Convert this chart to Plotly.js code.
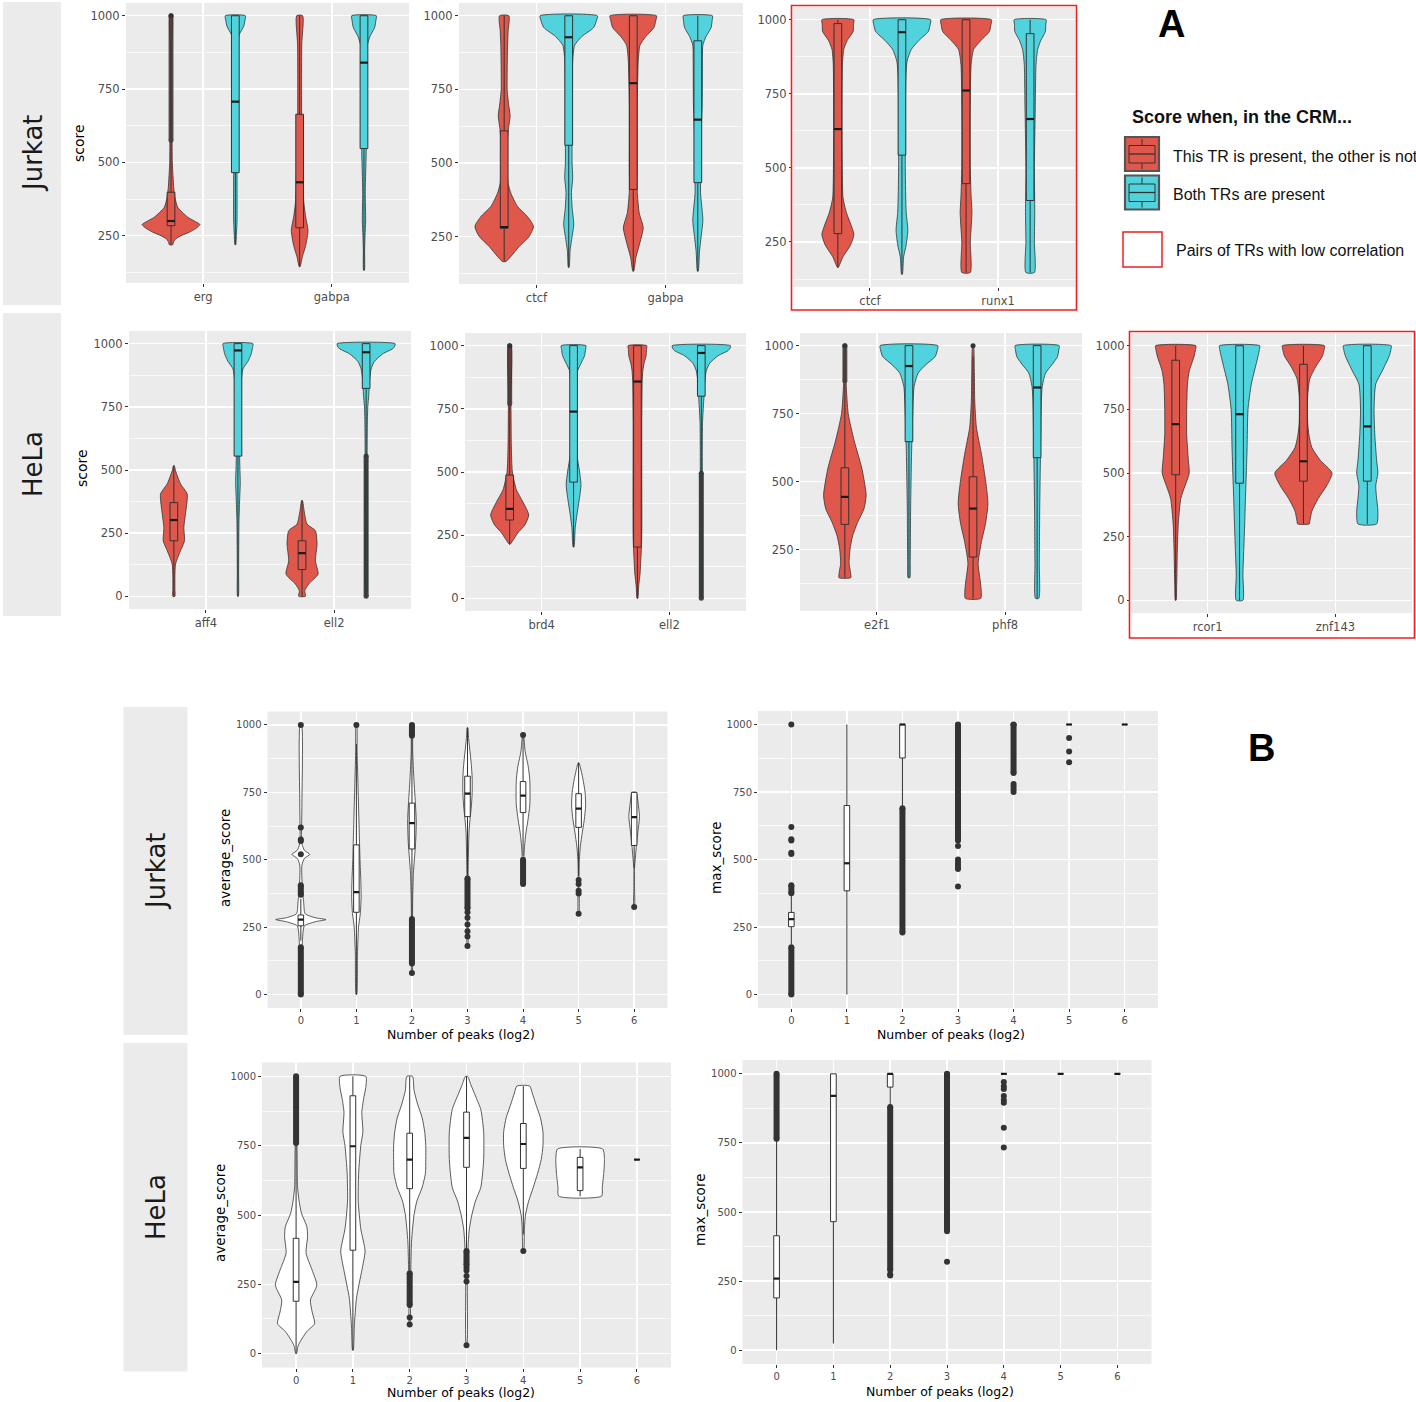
<!DOCTYPE html>
<html>
<head>
<meta charset="utf-8">
<script src="https://cdn.plot.ly/plotly-3.0.1.min.js"></script>
<style>body{margin:0;background:#fff}#chart{width:1416px;height:1402px}</style>
</head>
<body>
<div id="chart"></div>
<script>
// =================== DATA ===================
// Panel A. Each violin: score levels and half-width (x units) of the density outline.
// Box stats: [lower whisker, q1, median, q3, upper whisker]
// ---- Jurkat, pair 1
const jA1Cats = ['erg', 'gabpa'];
const jA1RedLevels = [[1000,900,700,500,450,415,380,347,313,300,288,275,262,250,240,230,219],[1000,900,600,450,370,313,268,217,178,144]];
const jA1RedWidths = [[0.008,0.008,0.008,0.010,0.016,0.021,0.031,0.052,0.130,0.181,0.225,0.194,0.143,0.078,0.039,0.021,0.013],[0.023,0.016,0.016,0.026,0.031,0.047,0.065,0.047,0.021,0.003]];
const jA1CyanLevels = [[1000,985,964,936,902,850,700,500,300,250,219],[1000,985,960,930,900,880,700,550,400,300,250,200,132]];
const jA1CyanWidths = [[0.078,0.075,0.065,0.031,0.016,0.013,0.013,0.013,0.013,0.008,0.003],[0.096,0.093,0.083,0.047,0.026,0.021,0.018,0.018,0.010,0.013,0.008,0.005,0.003]];
const jA1RedStats = [[219,284,300,398,570],[144,277,432,664,1000]];
const jA1CyanStats = [[219,465,707,1000,1000],[132,547,840,1000,1000]];
const jA1RedOutliers = [[1000],[]];
const jA1RedOutlierRuns = [[[575,1000]],[]];
// ---- Jurkat, pair 2
const jA2Cats = ['ctcf', 'gabpa'];
const jA2RedLevels = [[1000,950,900,800,750,700,660,620,560,500,430,397,352,318,284,250,216,182,165],[1000,985,960,930,900,850,700,500,400,330,280,230,180,132]];
const jA2RedWidths = [[0.036,0.031,0.026,0.023,0.023,0.034,0.046,0.034,0.023,0.021,0.031,0.052,0.103,0.180,0.227,0.193,0.116,0.052,0.013],[0.180,0.175,0.160,0.098,0.052,0.039,0.031,0.031,0.031,0.046,0.077,0.052,0.021,0.003]];
const jA2CyanLevels = [[1000,985,960,930,900,850,700,600,500,450,400,350,290,250,200,145],[1000,985,960,930,900,850,700,600,500,400,306,250,200,132]];
const jA2CyanWidths = [[0.222,0.216,0.193,0.103,0.046,0.031,0.026,0.026,0.026,0.031,0.021,0.026,0.039,0.026,0.010,0.003],[0.113,0.111,0.103,0.064,0.039,0.036,0.034,0.026,0.026,0.021,0.039,0.026,0.013,0.003]];
const jA2RedStats = [[165,278,282,609,1000],[132,410,771,1000,1000]];
const jA2CyanStats = [[145,560,927,1000,1000],[132,433,647,915,1000]];
// ---- Jurkat, pair 3 (low correlation)
const jA3Cats = ['ctcf', 'runx1'];
const jA3RedLevels = [[1000,985,960,930,900,850,600,450,400,350,300,275,240,200,164],[1000,985,960,930,900,850,700,500,400,350,300,250,147]];
const jA3RedWidths = [[0.125,0.122,0.119,0.073,0.046,0.036,0.033,0.036,0.040,0.066,0.109,0.125,0.099,0.040,0.003],[0.198,0.195,0.182,0.116,0.059,0.040,0.033,0.033,0.040,0.046,0.040,0.033,0.033]];
const jA3CyanLevels = [[1000,985,960,930,900,860,800,500,350,290,240,200,141],[1000,985,960,930,900,850,700,500,350,250,147]];
const jA3CyanWidths = [[0.224,0.221,0.205,0.132,0.073,0.040,0.030,0.026,0.033,0.046,0.033,0.013,0.003],[0.125,0.122,0.119,0.083,0.059,0.046,0.040,0.033,0.036,0.033,0.033]];
const jA3RedStats = [[164,278,631,987,1000],[147,447,761,1000,1000]];
const jA3CyanStats = [[141,543,958,1000,1000],[147,390,665,953,1000]];
// ---- HeLa, pair 1
const hA1Cats = ['aff4', 'ell2'];
const hA1RedLevels = [[517,497,445,405,339,273,220,181,128,75,30,0],[379,339,286,260,207,141,88,49,22,8,0]];
const hA1RedWidths = [[0.003,0.013,0.052,0.104,0.094,0.078,0.083,0.052,0.013,0.008,0.008,0.008],[0.003,0.016,0.039,0.104,0.117,0.104,0.125,0.052,0.021,0.026,0.026]];
const hA1CyanLevels = [[1000,985,960,930,900,850,700,550,450,380,300,100,0],[1000,990,980,960,930,900,850,800,750,700,600,300,0]];
const hA1CyanWidths = [[0.117,0.114,0.104,0.078,0.039,0.026,0.018,0.013,0.018,0.013,0.008,0.005,0.003],[0.226,0.223,0.208,0.130,0.065,0.039,0.026,0.021,0.013,0.010,0.008,0.008,0.003]];
const hA1RedStats = [[0,220,302,371,517],[0,106,171,220,379]];
const hA1CyanStats = [[0,555,973,1000,1000],[560,823,966,1000,1000]];
const hA1CyanOutlierRuns = [[],[[0,555]]];
// ---- HeLa, pair 2
const hA2Cats = ['brd4', 'ell2'];
const hA2RedLevels = [[1000,800,600,500,430,380,330,290,260,240,214],[1000,985,960,930,900,850,700,250,200,150,100,50,0]];
const hA2RedWidths = [[0.010,0.010,0.013,0.021,0.052,0.105,0.149,0.118,0.065,0.039,0.003],[0.073,0.071,0.068,0.052,0.042,0.037,0.034,0.034,0.031,0.026,0.021,0.010,0.003]];
const hA2CyanLevels = [[1000,985,960,930,900,850,600,500,450,400,330,280,203],[1000,990,980,960,930,900,850,800,700,600,300,0]];
const hA2CyanWidths = [[0.097,0.094,0.086,0.058,0.031,0.021,0.018,0.047,0.058,0.047,0.026,0.013,0.003],[0.228,0.225,0.209,0.131,0.065,0.039,0.026,0.021,0.010,0.008,0.008,0.003]];
const hA2RedStats = [[214,310,354,488,760],[0,203,858,1000,1000]];
const hA2CyanStats = [[203,460,739,1000,1000],[500,800,971,1000,1000]];
const hA2RedOutliers = [[1000],[]];
const hA2RedOutlierRuns = [[[770,1000]],[]];
const hA2CyanOutlierRuns = [[],[[0,495]]];
// ---- HeLa, pair 3
const hA3Cats = ['e2f1', 'phf8'];
const hA3RedLevels = [[1000,860,750,650,550,450,400,350,300,250,200,160,147],[1000,900,800,700,600,500,420,350,280,200,120,71]];
const hA3RedWidths = [[0.003,0.010,0.026,0.073,0.132,0.166,0.149,0.099,0.060,0.040,0.033,0.046,0.046],[0.003,0.010,0.013,0.026,0.066,0.099,0.116,0.099,0.066,0.040,0.060,0.060]];
const hA3CyanLevels = [[1000,985,960,930,900,850,800,700,600,400,200,147],[1000,985,960,930,900,850,800,600,400,200,71]];
const hA3CyanWidths = [[0.225,0.222,0.205,0.132,0.073,0.040,0.033,0.026,0.020,0.013,0.010,0.007],[0.172,0.169,0.159,0.116,0.066,0.040,0.033,0.026,0.020,0.017,0.013]];
const hA3RedStats = [[147,343,444,551,860],[71,223,401,518,960]];
const hA3CyanStats = [[147,647,925,1000,1000],[71,588,846,1000,1000]];
const hA3RedOutliers = [[1000],[1000]];
const hA3RedOutlierRuns = [[[870,1000]],[]];
// ---- HeLa, pair 4 (low correlation)
const hA4Cats = ['rcor1', 'znf143'];
const hA4RedLevels = [[1000,985,960,900,850,750,650,550,500,450,400,300,200,50,0],[1000,985,960,920,870,800,700,650,600,550,500,450,400,350,310,300]];
const hA4RedWidths = [[0.158,0.155,0.145,0.106,0.092,0.086,0.086,0.099,0.106,0.073,0.040,0.020,0.013,0.007,0.003],[0.165,0.162,0.149,0.099,0.050,0.033,0.033,0.043,0.066,0.132,0.224,0.182,0.116,0.066,0.050,0.046]];
const hA4CyanLevels = [[1000,985,960,900,850,750,600,500,400,300,200,100,0],[1000,985,960,900,850,750,650,550,500,450,400,350,300]];
const hA4CyanWidths = [[0.158,0.155,0.145,0.116,0.092,0.066,0.059,0.053,0.046,0.040,0.033,0.026,0.026],[0.188,0.185,0.172,0.116,0.066,0.053,0.059,0.073,0.083,0.066,0.073,0.083,0.073]];
const hA4RedStats = [[0,493,692,943,1000],[300,468,546,927,1000]];
const hA4CyanStats = [[0,460,731,1000,1000],[300,468,683,1000,1000]];

// Panel B: x = number of peaks (log2)
const peakCats = ['0','1','2','3','4','5','6'];
// ---- Jurkat average_score (violin + box)
const jBAvgLevels = [
  [1000,700,560,535,520,505,480,400,340,300,285,278,270,255,230,150,0],
  [1000,900,750,600,500,420,360,300,250,150,0],
  [990,900,800,700,640,560,450,350,250,150,80],
  [990,950,900,850,800,750,700,650,600,500,400,300,180],
  [963,900,850,800,740,700,650,600,550,500,410],
  [860,800,750,700,650,600,550,500,430,300],
  [750,700,660,600,550,500,470,400,325]];
const jBAvgWidths = [
  [0.013,0.019,0.019,0.065,0.161,0.065,0.019,0.026,0.052,0.077,0.258,0.452,0.258,0.065,0.039,0.019,0.013],
  [0.006,0.013,0.032,0.052,0.065,0.080,0.085,0.070,0.039,0.019,0.006],
  [0.006,0.013,0.035,0.065,0.078,0.065,0.026,0.013,0.010,0.006,0.006],
  [0.006,0.020,0.045,0.070,0.084,0.084,0.070,0.045,0.026,0.015,0.008,0.006,0.006],
  [0.006,0.039,0.090,0.120,0.126,0.120,0.090,0.052,0.026,0.013,0.006],
  [0.006,0.077,0.116,0.126,0.103,0.065,0.032,0.013,0.006,0.006],
  [0.036,0.077,0.096,0.065,0.039,0.019,0.006,0.006,0.006]];
const jBAvgStats = [[200,255,278,295,355],[0,305,380,555,930],[285,540,636,710,965],[440,660,745,810,990],[515,675,738,790,960],[440,620,690,745,860],[470,553,658,750,750]];
const jBAvgOutliers = [[520,570,575,620,1000],[1000],[80],[305,285,260,235,215,180],[963],[425,410,385,375,300],[325]];
const jBAvgOutlierRuns = [[[0,175],[370,405]],[],[[115,280],[960,1000]],[[320,430]],[[410,500]],[],[]];
// ---- Jurkat max_score (box)
const jBMaxStats = [[185,251,279,304,365],[0,384,486,700,1000],[690,876,1000,1000,1000],[1000,1000,1000,1000,1000],[1000,1000,1000,1000,1000],[1000,1000,1000,1000,1000],[1000,1000,1000,1000,1000]];
const jBMaxOutliers = [[520,525,570,575,620,1000],[],[],[550,500,490,480,470,465,400],[780,770,760,750],[950,900,860],[]];
const jBMaxOutlierRuns = [[[0,175],[375,405]],[],[[230,690]],[[570,1000]],[[820,1000]],[],[]];
// ---- HeLa average_score (violin + box)
const hBAvgLevels = [
  [1000,800,700,603,555,507,458,422,362,301,247,193,150,108,80,30,0],
  [1000,960,920,870,800,750,650,550,450,370,300,200,100,12],
  [1000,950,900,850,800,750,700,650,600,550,500,450,400,300,200,105],
  [1000,970,930,880,800,700,600,550,500,450,400,300,30],
  [965,940,900,850,800,750,700,650,600,550,500,450,370],
  [738,700,650,600,568],
  []];
const hBAvgWidths = [
  [0.006,0.013,0.019,0.025,0.050,0.094,0.189,0.202,0.176,0.283,0.365,0.252,0.283,0.327,0.189,0.038,0.006],
  [0.227,0.227,0.189,0.157,0.176,0.139,0.101,0.094,0.139,0.214,0.157,0.063,0.025,0.006],
  [0.050,0.076,0.139,0.220,0.264,0.283,0.283,0.277,0.220,0.126,0.076,0.050,0.031,0.019,0.013,0.006],
  [0.019,0.076,0.157,0.252,0.302,0.302,0.252,0.157,0.094,0.050,0.031,0.013,0.006],
  [0.113,0.157,0.220,0.302,0.346,0.346,0.315,0.252,0.176,0.094,0.038,0.019,0.006],
  [0.397,0.428,0.416,0.390,0.378],
  []];
const hBAvgStats = [[0,189,259,416,755],[12,373,748,930,1000],[300,595,700,795,1000],[380,672,778,871,1000],[430,668,756,830,965],[568,588,672,708,738],[700,700,700,700,700]];
const hBAvgOutliers = [[],[],[130,105],[310,300,280,260,30],[370],[],[]];
const hBAvgOutlierRuns = [[[760,1000]],[],[[175,290]],[[320,370]],[],[],[]];
// ---- HeLa max_score (box)
const hBMaxStats = [[0,189,259,414,760],[24,465,920,1000,1000],[885,952,1000,1000,1000],[1000,1000,1000,1000,1000],[1000,1000,1000,1000,1000],[1000,1000,1000,1000,1000],[1000,1000,1000,1000,1000]];
const hBMaxOutliers = [[],[],[275,270],[320],[970,955,945,920,905,895,805,733],[],[]];
const hBMaxOutlierRuns = [[[765,1000]],[],[[290,880]],[[430,1000]],[],[],[]];

const NONE2 = [[],[]];

// =================== STYLE / LAYOUT HELPERS ===================
const W = 1416, H = 1402;
const RED = '#E0574C', CYAN = '#50D3DC', INK = '#333333', PANEL = '#EBEBEB';
const DODGE = 0.25, BOXW_A = 0.06, BOXW_B = 0.1;

const traces = [];
const layout = {
  width: W, height: H, margin: {l: 0, r: 0, t: 0, b: 0},
  paper_bgcolor: '#ffffff', plot_bgcolor: PANEL, showlegend: false,
  font: {family: 'DejaVu Sans', color: '#1a1a1a'},
  shapes: [], annotations: []
};

let nAx = 0;
function yRangeFrom(lists) {
  const all = [].concat(...lists.map(l => l.flat(3))).filter(v => typeof v === 'number');
  const mn = Math.min(...all), mx = Math.max(...all), pad = 0.05 * (mx - mn);
  return [mn - pad, mx + pad];
}
function addAxes(px, xr, tickvals, ticktext, yr, fs) {
  nAx++;
  const s = nAx === 1 ? '' : String(nAx);
  const common = {
    showgrid: true, gridcolor: '#ffffff', gridwidth: 1.4, zeroline: false, showline: false,
    ticks: 'outside', ticklen: 3, tickwidth: 1, tickcolor: INK,
    tickfont: {size: fs, color: '#4D4D4D', family: 'DejaVu Sans'}, fixedrange: true
  };
  layout['xaxis' + s] = Object.assign({}, common, {
    domain: [px[0] / W, px[1] / W], anchor: 'y' + s, range: xr,
    tickmode: 'array', tickvals: tickvals, ticktext: ticktext
  });
  layout['yaxis' + s] = Object.assign({}, common, {
    domain: [1 - px[3] / H, 1 - px[2] / H], anchor: 'x' + s, range: yr,
    tick0: 0, dtick: 250,
    minor: {tick0: 0, dtick: 125, showgrid: true, gridcolor: '#ffffff', gridwidth: 0.7, ticks: ''}
  });
  return {xa: 'x' + s, ya: 'y' + s};
}
function violin(center, levels, widths, fill, ax) {
  if (!levels.length) return;
  const xs = [], ys = [];
  for (let i = 0; i < levels.length; i++) { xs.push(center + widths[i]); ys.push(levels[i]); }
  for (let i = levels.length - 1; i >= 0; i--) { xs.push(center - widths[i]); ys.push(levels[i]); }
  xs.push(xs[0]); ys.push(ys[0]);
  traces.push({type: 'scatter', mode: 'lines', x: xs, y: ys, fill: 'toself', fillcolor: fill,
    line: {color: INK, width: 0.8, shape: 'spline', smoothing: 0.6},
    xaxis: ax.xa, yaxis: ax.ya, hoverinfo: 'skip'});
}
// box plots drawn from the stats through the axes (whiskers, box body, thick median)
function boxes(pos, stats, fill, width, ax) {
  const wx = [], wy = [];
  pos.forEach((p, i) => {
    const s = stats[i];
    wx.push(p, p, null, p, p, null); wy.push(s[0], s[1], null, s[3], s[4], null);
  });
  traces.push({type: 'scatter', mode: 'lines', x: wx, y: wy, line: {color: INK, width: 1},
    xaxis: ax.xa, yaxis: ax.ya, hoverinfo: 'skip'});
  const bx = [], by = [];
  pos.forEach((p, i) => {
    const s = stats[i], h = width / 2;
    bx.push(p - h, p + h, p + h, p - h, p - h, null);
    by.push(s[1], s[1], s[3], s[3], s[1], null);
  });
  traces.push({type: 'scatter', mode: 'lines', x: bx, y: by, fill: 'toself', fillcolor: fill,
    line: {color: INK, width: 1}, xaxis: ax.xa, yaxis: ax.ya, hoverinfo: 'skip'});
  const mx = [], my = [];
  pos.forEach((p, i) => { mx.push(p - width / 2, p + width / 2, null); my.push(stats[i][2], stats[i][2], null); });
  traces.push({type: 'scatter', mode: 'lines', x: mx, y: my, line: {color: '#1a1a1a', width: 2.2},
    xaxis: ax.xa, yaxis: ax.ya, hoverinfo: 'skip'});
}
function outliers(pos, pts, runs, size, opacity, ax) {
  const px = [], py = [];
  pos.forEach((p, i) => (pts[i] || []).forEach(v => { px.push(p); py.push(v); }));
  if (px.length) traces.push({type: 'scatter', mode: 'markers', x: px, y: py,
    marker: {color: INK, size: size}, xaxis: ax.xa, yaxis: ax.ya, hoverinfo: 'skip'});
  const rx = [], ry = [];
  pos.forEach((p, i) => (runs[i] || []).forEach(r => { rx.push(p, p, null); ry.push(r[0], r[1], null); }));
  if (rx.length) traces.push({type: 'scatter', mode: 'lines+markers', x: rx, y: ry, opacity: opacity,
    line: {color: INK, width: size}, marker: {color: INK, size: size},
    xaxis: ax.xa, yaxis: ax.ya, hoverinfo: 'skip'});
}

// =================== PANEL A ===================
const panelsA = [
  {cats: jA1Cats, rl: jA1RedLevels, rw: jA1RedWidths, cl: jA1CyanLevels, cw: jA1CyanWidths, rs: jA1RedStats, cs: jA1CyanStats, ro: jA1RedOutliers, rr: jA1RedOutlierRuns, co: NONE2, cr: NONE2, px: [126, 409, 3, 283]},
  {cats: jA2Cats, rl: jA2RedLevels, rw: jA2RedWidths, cl: jA2CyanLevels, cw: jA2CyanWidths, rs: jA2RedStats, cs: jA2CyanStats, ro: NONE2, rr: NONE2, co: NONE2, cr: NONE2, px: [459, 743, 3, 284]},
  {cats: jA3Cats, rl: jA3RedLevels, rw: jA3RedWidths, cl: jA3CyanLevels, cw: jA3CyanWidths, rs: jA3RedStats, cs: jA3CyanStats, ro: NONE2, rr: NONE2, co: NONE2, cr: NONE2, px: [793, 1075, 7, 287]},
  {cats: hA1Cats, rl: hA1RedLevels, rw: hA1RedWidths, cl: hA1CyanLevels, cw: hA1CyanWidths, rs: hA1RedStats, cs: hA1CyanStats, ro: NONE2, rr: NONE2, co: NONE2, cr: hA1CyanOutlierRuns, px: [129, 411, 331, 609]},
  {cats: hA2Cats, rl: hA2RedLevels, rw: hA2RedWidths, cl: hA2CyanLevels, cw: hA2CyanWidths, rs: hA2RedStats, cs: hA2CyanStats, ro: hA2RedOutliers, rr: hA2RedOutlierRuns, co: NONE2, cr: hA2CyanOutlierRuns, px: [465, 746, 333, 611]},
  {cats: hA3Cats, rl: hA3RedLevels, rw: hA3RedWidths, cl: hA3CyanLevels, cw: hA3CyanWidths, rs: hA3RedStats, cs: hA3CyanStats, ro: hA3RedOutliers, rr: hA3RedOutlierRuns, co: NONE2, cr: NONE2, px: [800, 1082, 333, 611]},
  {cats: hA4Cats, rl: hA4RedLevels, rw: hA4RedWidths, cl: hA4CyanLevels, cw: hA4CyanWidths, rs: hA4RedStats, cs: hA4CyanStats, ro: NONE2, rr: NONE2, co: NONE2, cr: NONE2, px: [1131, 1412, 333, 613]}
];
panelsA.forEach(p => {
  const yr = yRangeFrom([p.rl, p.cl, p.rs, p.cs, p.ro, p.rr]);
  const ax = addAxes(p.px, [0.4, p.cats.length + 0.6], p.cats.map((c, i) => i + 1), p.cats, yr, 11.5);
  const rp = p.cats.map((c, i) => i + 1 - DODGE), cp = p.cats.map((c, i) => i + 1 + DODGE);
  p.cats.forEach((c, i) => {
    violin(rp[i], p.rl[i], p.rw[i], RED, ax);
    violin(cp[i], p.cl[i], p.cw[i], CYAN, ax);
  });
  boxes(rp, p.rs, RED, BOXW_A, ax);
  boxes(cp, p.cs, CYAN, BOXW_A, ax);
  outliers(rp, p.ro, p.rr, 5, 0.75, ax);
  outliers(cp, p.co, p.cr, 5, 0.9, ax);
});

// =================== PANEL B ===================
const panelsB = [
  {lv: jBAvgLevels, wd: jBAvgWidths, st: jBAvgStats, ol: jBAvgOutliers, or: jBAvgOutlierRuns, px: [267.5, 667.5, 711.5, 1008]},
  {lv: null, wd: null, st: jBMaxStats, ol: jBMaxOutliers, or: jBMaxOutlierRuns, px: [758, 1158, 711, 1008]},
  {lv: hBAvgLevels, wd: hBAvgWidths, st: hBAvgStats, ol: hBAvgOutliers, or: hBAvgOutlierRuns, px: [262, 671, 1062.5, 1367.5]},
  {lv: null, wd: null, st: hBMaxStats, ol: hBMaxOutliers, or: hBMaxOutlierRuns, px: [742.5, 1151.5, 1060, 1364]}
];
panelsB.forEach(p => {
  const yr = yRangeFrom([p.lv || [], p.st, p.ol, p.or]);
  const pos = peakCats.map(c => Number(c));
  const ax = addAxes(p.px, [-0.6, peakCats.length - 0.4], pos, peakCats, yr, 10);
  if (p.lv) pos.forEach((x, i) => violin(x, p.lv[i], p.wd[i], '#ffffff', ax));
  boxes(pos, p.st, '#ffffff', BOXW_B, ax);
  outliers(pos, p.ol, p.or, 6, 1, ax);
});

// =================== DECORATION ===================
function rect(x0, y0, x1, y1, fill, lineColor, lw) {
  layout.shapes.push({type: 'rect', xref: 'paper', yref: 'paper', x0: x0 / W, x1: x1 / W, y0: 1 - y1 / H, y1: 1 - y0 / H,
    fillcolor: fill, line: {color: lineColor || 'rgba(0,0,0,0)', width: lw || 0}, layer: 'below'});
}
function seg(x0, y0, x1, y1, color, lw) {
  layout.shapes.push({type: 'line', xref: 'paper', yref: 'paper', x0: x0 / W, x1: x1 / W, y0: 1 - y0 / H, y1: 1 - y1 / H,
    line: {color: color, width: lw}, layer: 'above'});
}
function text(t, x, y, opts) {
  layout.annotations.push(Object.assign({text: t, x: x / W, y: 1 - y / H, xref: 'paper', yref: 'paper',
    showarrow: false, xanchor: 'center', yanchor: 'middle'}, opts));
}
// facet strips
rect(3, 2, 61, 305, PANEL); rect(3, 313, 61, 616, PANEL);
rect(123.5, 707, 187.5, 1035, PANEL); rect(123.5, 1043, 187.5, 1371.5, PANEL);
const stripFont = {family: 'DejaVu Sans', size: 26, color: '#1a1a1a'};
text('Jurkat', 33, 153, {textangle: -90, font: stripFont});
text('HeLa', 33, 464, {textangle: -90, font: stripFont});
text('Jurkat', 156, 871, {textangle: -90, font: stripFont});
text('HeLa', 156, 1207, {textangle: -90, font: stripFont});
// axis titles
const titleA = {family: 'DejaVu Sans', size: 14, color: '#000'};
const titleB = {family: 'DejaVu Sans', size: 13.5, color: '#000'};
text('score', 79, 143, {textangle: -90, font: titleA});
text('score', 82, 468, {textangle: -90, font: titleA});
text('average_score', 225, 858, {textangle: -90, font: titleB});
text('max_score', 716, 858, {textangle: -90, font: titleB});
text('average_score', 220, 1213, {textangle: -90, font: titleB});
text('max_score', 700, 1210, {textangle: -90, font: titleB});
const xt = {family: 'DejaVu Sans', size: 12.5, color: '#000'};
text('Number of peaks (log2)', 461, 1034, {font: xt});
text('Number of peaks (log2)', 951, 1034, {font: xt});
text('Number of peaks (log2)', 461, 1392, {font: xt});
text('Number of peaks (log2)', 940, 1391, {font: xt});
// low-correlation frames
layout.shapes.push({type: 'rect', xref: 'paper', yref: 'paper', x0: 791.5 / W, x1: 1076.5 / W, y0: 1 - 310 / H, y1: 1 - 5.5 / H, line: {color: '#EE2020', width: 1.6}, fillcolor: 'rgba(0,0,0,0)'});
layout.shapes.push({type: 'rect', xref: 'paper', yref: 'paper', x0: 1129.5 / W, x1: 1414.5 / W, y0: 1 - 638 / H, y1: 1 - 331.5 / H, line: {color: '#EE2020', width: 1.6}, fillcolor: 'rgba(0,0,0,0)'});
// panel letters
const letterFont = {family: 'Liberation Sans', size: 38, color: '#000'};
text('<b>A</b>', 1171, 24, {font: letterFont});
text('<b>B</b>', 1261, 748, {font: letterFont});
// legend
const legFont = {family: 'Liberation Sans', size: 16, color: '#111'};
text('<b>Score when, in the CRM...</b>', 1130, 117, {xanchor: 'left', font: {family: 'Liberation Sans', size: 18, color: '#111'}});
[[RED, 137, 'This TR is present, the other is not'], [CYAN, 175.5, 'Both TRs are present']].forEach(k => {
  const y0 = k[1];
  layout.shapes.push({type: 'rect', xref: 'paper', yref: 'paper', x0: 1125 / W, x1: 1159 / W, y0: 1 - (y0 + 34) / H, y1: 1 - y0 / H, fillcolor: k[0], line: {color: '#555555', width: 2.2}});
  layout.shapes.push({type: 'rect', xref: 'paper', yref: 'paper', x0: 1129 / W, x1: 1155 / W, y0: 1 - (y0 + 26) / H, y1: 1 - (y0 + 8.5) / H, fillcolor: 'rgba(0,0,0,0)', line: {color: INK, width: 1}});
  seg(1129, y0 + 17, 1155, y0 + 17, INK, 1.3);
  seg(1142, y0 + 2, 1142, y0 + 8.5, INK, 1);
  seg(1142, y0 + 26, 1142, y0 + 32, INK, 1);
  text(k[2], 1171, y0 + 19, {xanchor: 'left', font: legFont});
});
layout.shapes.push({type: 'rect', xref: 'paper', yref: 'paper', x0: 1123 / W, x1: 1162 / W, y0: 1 - 267 / H, y1: 1 - 232 / H, fillcolor: 'rgba(0,0,0,0)', line: {color: '#EE2020', width: 1.5}});
text('Pairs of TRs with low correlation', 1174, 250, {xanchor: 'left', font: legFont});

Plotly.newPlot('chart', traces, layout, {staticPlot: true, displayModeBar: false});
</script>
</body>
</html>
